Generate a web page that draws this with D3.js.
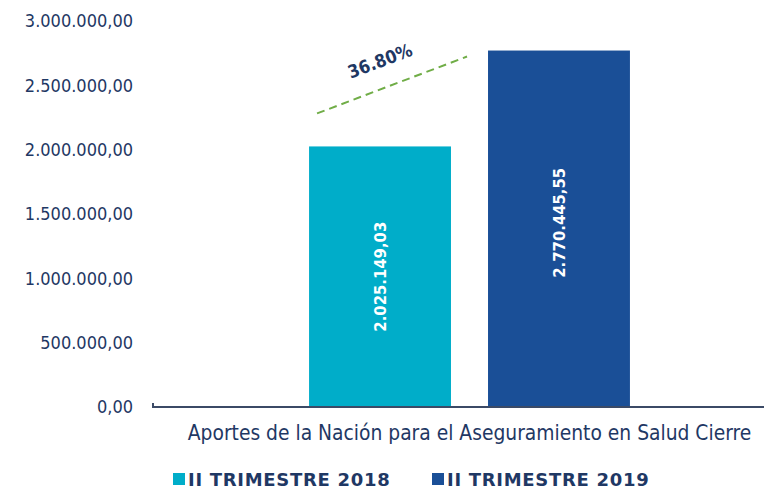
<!DOCTYPE html>
<html>
<head>
<meta charset="utf-8">
<script src="https://cdn.jsdelivr.net/npm/d3@7"></script>
<style>
  body { margin: 0; background: #fff; }
  text { font-family: "DejaVu Sans Condensed", "DejaVu Sans", sans-serif; font-stretch: condensed; }
  text.wide { font-family: "DejaVu Sans", sans-serif; font-stretch: normal; }
</style>
</head>
<body>
<div id="chart"></div>
<script>
let categories = ["Aportes de la Nación para el Aseguramiento en Salud Cierre"];
let seriesNames = ["II TRIMESTRE 2018", "II TRIMESTRE 2019"];
let seriesValues = [2025149.03, 2770445.55];
let valueLabels = ["2.025.149,03", "2.770.445,55"];
let growthLabel = "36.80%";
let yTicks = [0, 500000, 1000000, 1500000, 2000000, 2500000, 3000000];
let colors = ["#00ADC9", "#1A4F97"];
let navy = "#1F3864";

let width = 764, height = 488;

let svg = d3.select("#chart").append("svg")
  .attr("width", width)
  .attr("height", height);

// plot area
let x0 = 153, x1 = 786, yTop = 21, yBottom = 407;

let y = d3.scaleLinear().domain([0, 3000000]).range([yBottom, yTop]);

let xCat = d3.scaleBand().domain(categories).range([x0, x1]);
let xSer = d3.scaleBand().domain(seriesNames)
  .range([0, xCat.bandwidth()]).paddingInner(0.207).paddingOuter(0.872);

// y tick labels (es format)
function fmt(v) {
  return d3.format(",.2f")(v).replace(/,/g, "#").replace(/\./g, ",").replace(/#/g, ".");
}

svg.append("g").selectAll("text")
  .data(yTicks).enter()
  .append("text")
  .attr("x", 133)
  .attr("y", d => y(d))
  .attr("dy", "0.35em")
  .attr("text-anchor", "end")
  .attr("font-size", "18px")
  .attr("fill", navy)
  .text(d => fmt(d));

// bars
let bars = svg.append("g");
bars.selectAll("rect")
  .data(seriesValues).enter()
  .append("rect")
  .attr("x", (d, i) => xCat(categories[0]) + xSer(seriesNames[i]))
  .attr("y", d => y(d))
  .attr("width", xSer.bandwidth())
  .attr("height", d => yBottom - y(d))
  .attr("fill", (d, i) => colors[i]);

// value labels inside bars, rotated
bars.selectAll("text")
  .data(seriesValues).enter()
  .append("text")
  .attr("transform", (d, i) => {
    let cx = xCat(categories[0]) + xSer(seriesNames[i]) + xSer.bandwidth() / 2;
    let cy = (i == 0) ? (y(d) + yBottom) / 2 : (y(d) + yBottom) / 2 - 6;
    return "translate(" + cx + "," + cy + ") rotate(-90)";
  })
  .attr("text-anchor", "middle")
  .attr("dy", "0.35em")
  .attr("font-size", "16.5px")
  .attr("font-weight", "bold")
  .attr("fill", "#fff")
  .text((d, i) => valueLabels[i]);

// axis line
svg.append("path")
  .attr("d", "M" + x0 + "," + (yBottom - 4) + "V" + yBottom + "H" + width)
  .attr("fill", "none")
  .attr("stroke", "#3B4A66")
  .attr("stroke-width", 2);

// category label
svg.append("text")
  .attr("x", 469.5)
  .attr("y", 440)
  .attr("text-anchor", "middle")
  .attr("font-size", "20.8px")
  .attr("fill", navy)
  .text(categories[0]);

// growth dashed line between the bars
let b1 = xCat(categories[0]) + xSer(seriesNames[0]);
let b2 = xCat(categories[0]) + xSer(seriesNames[1]);
let lx1 = b1 + 8, ly1 = y(seriesValues[0]) - 33;
let lx2 = b2 - 21, ly2 = y(seriesValues[1]) + 6;
svg.append("line")
  .attr("x1", lx1).attr("y1", ly1)
  .attr("x2", lx2).attr("y2", ly2)
  .attr("stroke", "#70AD47")
  .attr("stroke-width", 2)
  .attr("stroke-dasharray", "8,5");

let ang = Math.atan2(ly2 - ly1, lx2 - lx1) * 180 / Math.PI;
svg.append("text")
  .attr("transform", "translate(380,61) rotate(" + ang + ")")
  .attr("text-anchor", "middle")
  .attr("dy", "0.35em")
  .attr("font-size", "18px")
  .attr("font-weight", "bold")
  .attr("fill", navy)
  .text(growthLabel);

// legend
let legendX = [173, 432];
let legend = svg.append("g").selectAll("g")
  .data(seriesNames).enter()
  .append("g")
  .attr("transform", (d, i) => "translate(" + legendX[i] + ",479)");
legend.append("rect")
  .attr("x", 0).attr("y", -6)
  .attr("width", 12).attr("height", 12)
  .attr("fill", (d, i) => colors[i]);
legend.append("text")
  .attr("class", "wide")
  .attr("x", 15)
  .attr("y", 6.5)
  .attr("font-size", "18px")
  .attr("font-weight", "bold")
  .attr("letter-spacing", "0.7px")
  .attr("fill", navy)
  .text(d => d);
</script>
</body>
</html>
